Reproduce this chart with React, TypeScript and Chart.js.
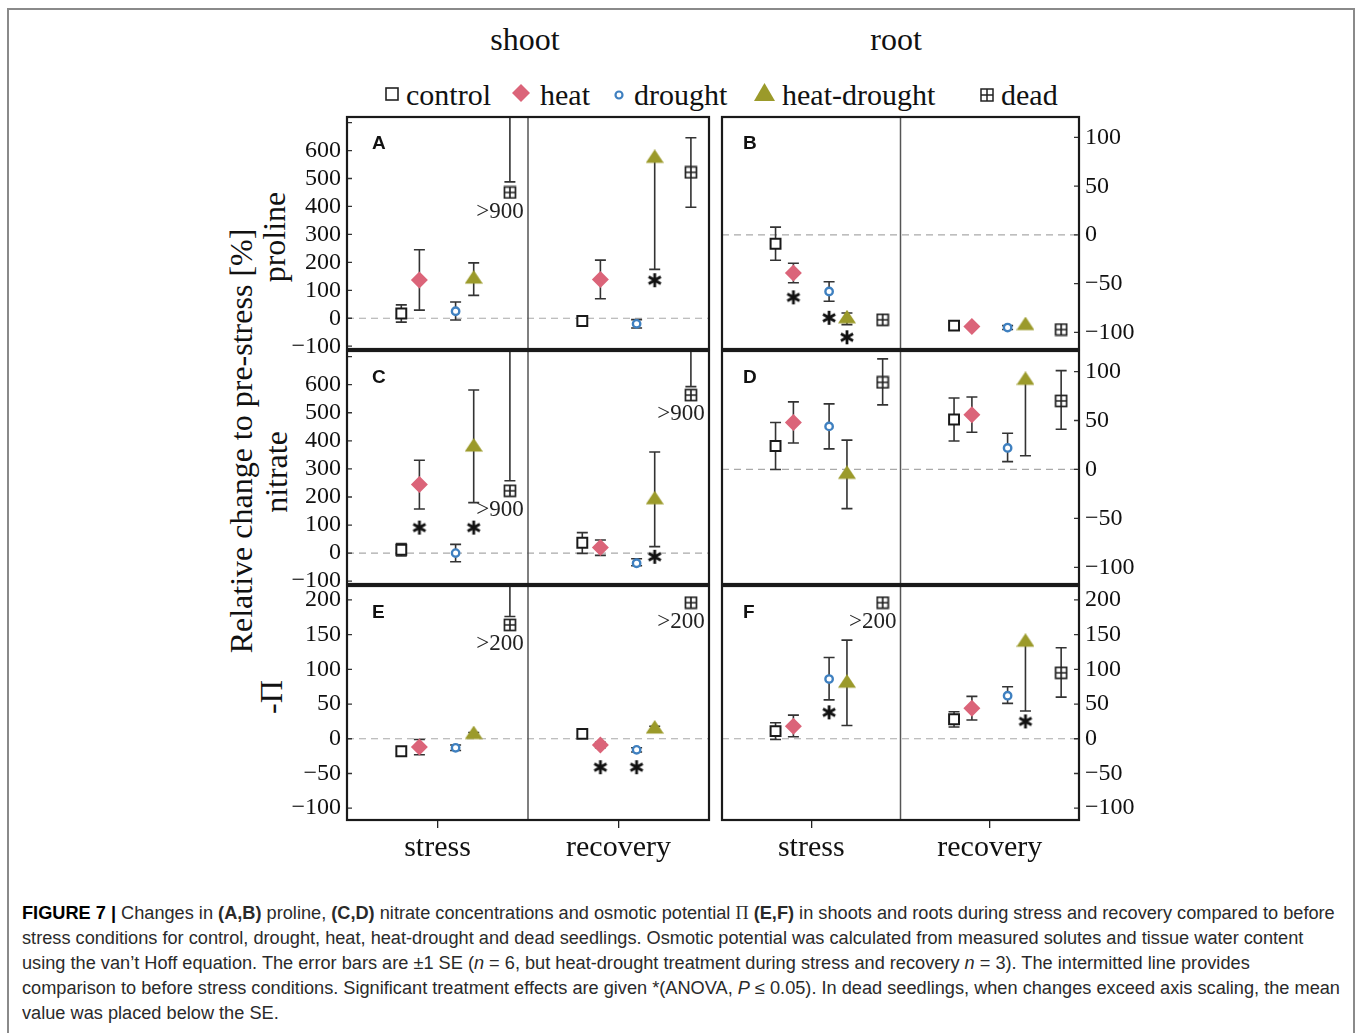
import React, { useEffect, useRef } from 'react';
import { Chart, registerables } from 'chart.js';

Chart.register(...registerables);

// ---------------- data ----------------
const categories = ['stress', 'recovery'];
const treatments = ['control', 'heat', 'drought', 'heat-drought', 'dead'];

// rows = treatments (control, heat, drought, heat-drought, dead); columns = [stress, recovery]
// A: proline, shoot
const prolineShootMean = [[17, -10], [137, 139], [25, -20], [140, 572], [450, 522]];
const prolineShootLow = [[-14, -10], [29, 70], [-6, -35], [82, 175], [488, 397]];
const prolineShootHigh = [[48, -10], [245, 208], [58, -5], [198, 572], [2000, 646]];
const prolineShootStar = [[null, null], [null, null], [null, null], [null, 136], [null, null]];
const prolineShootNote = ['>900', null];

// B: proline, root
const prolineRootMean = [[-9, -93], [-39, -94], [-58, -95], [-86, -93], [-87, -97]];
const prolineRootLow = [[-26, -93], [-49, -94], [-68, -97], [-92, -93], [-87, -97]];
const prolineRootHigh = [[8, -93], [-29, -94], [-48, -93], [-80, -93], [-87, -97]];
const prolineRootStar = [[null, null], [-64, null], [-85, null], [-105, null], [null, null]];
const prolineRootNote = [null, null];

// C: nitrate, shoot
const nitrateShootMean = [[12, 37], [244, 20], [0, -36], [378, 190], [222, 563]];
const nitrateShootLow = [[-10, -1], [157, -8], [-31, -45], [180, 23], [258, 593]];
const nitrateShootHigh = [[34, 73], [331, 47], [31, -20], [581, 360], [2000, 2000]];
const nitrateShootStar = [[null, null], [91, null], [null, null], [91, -13], [null, null]];
const nitrateShootNote = ['>900', '>900'];

// D: nitrate, root
const nitrateRootMean = [[24, 51], [48, 56], [44, 22], [-5, 91], [89, 70]];
const nitrateRootLow = [[0, 29], [27, 38], [21, 8], [-40, 14], [66, 41]];
const nitrateRootHigh = [[48, 73], [69, 74], [67, 37], [30, 91], [113, 101]];
const nitrateRootStar = [[null, null], [null, null], [null, null], [null, null], [null, null]];
const nitrateRootNote = [null, null];

// E: -Π, shoot
const osmoticShootMean = [[-18, 7], [-12, -9], [-13, -16], [6, 14], [164, 196]];
const osmoticShootLow = [[-18, 7], [-23, -13], [-17, -19], [3, 10], [176, null]];
const osmoticShootHigh = [[-18, 7], [-1, -5], [-9, -13], [9, 18], [1000, null]];
const osmoticShootStar = [[null, null], [null, -41], [null, -41], [null, null], [null, null]];
const osmoticShootNote = ['>200', '>200'];

// F: -Π, root
const osmoticRootMean = [[11, 28], [18, 44], [86, 62], [80, 139], [196, 95]];
const osmoticRootLow = [[-1, 17], [3, 27], [56, 51], [19, 40], [null, 60]];
const osmoticRootHigh = [[23, 39], [34, 61], [117, 75], [142, 139], [null, 131]];
const osmoticRootStar = [[null, null], [null, null], [38, null], [null, 25], [null, null]];
const osmoticRootNote = ['>200', null];

// axes
const concShootTicks = [-100, 0, 100, 200, 300, 400, 500, 600, 700];
const concShootTickLabels = ['−100', '0', '100', '200', '300', '400', '500', '600', ''];
const concShootLimits = [-110, 720];
const concRootTicks = [-100, -50, 0, 50, 100];
const concRootTickLabels = ['−100', '−50', '0', '50', '100'];
const concRootLimits = [-117, 121];
const osmoticTicks = [-100, -50, 0, 50, 100, 150, 200];
const osmoticTickLabels = ['−100', '−50', '0', '50', '100', '150', '200'];
const osmoticLimits = [-117, 220];

// ---------------- styles ----------------
const SERIF = '"Liberation Serif", "Times New Roman", Times, serif';
const SANS = '"Liberation Sans", Arial, Helvetica, sans-serif';
const HEAT = '#db6479';
const DROUGHT = '#3f80c0';
const HD = '#9b9a2a';
const INK = '#1a1a1a';
const CAT_X = [0.5, 1.5];
const OFFSETS = [-0.2, -0.1, 0.1, 0.2, 0.4];

Chart.defaults.font.family = SERIF;

function makeDeadIcon(): HTMLCanvasElement {
  const c = document.createElement('canvas');
  c.width = 14; c.height = 14;
  const g = c.getContext('2d')!;
  g.fillStyle = '#fff'; g.fillRect(1, 1, 12, 12);
  g.strokeStyle = '#222'; g.lineWidth = 1.7;
  g.strokeRect(1.5, 1.5, 11, 11);
  g.beginPath(); g.moveTo(7, 1.5); g.lineTo(7, 12.5); g.moveTo(1.5, 7); g.lineTo(12.5, 7); g.stroke();
  return c;
}
function makeTriangleIcon(): HTMLCanvasElement {
  const c = document.createElement('canvas');
  c.width = 18; c.height = 18;
  const g = c.getContext('2d')!;
  g.fillStyle = HD;
  g.beginPath(); g.moveTo(9, 0); g.lineTo(18, 13.5); g.lineTo(0, 13.5); g.closePath(); g.fill();
  return c;
}
function makeStarIcon(): HTMLCanvasElement {
  const c = document.createElement('canvas');
  c.width = 18; c.height = 18;
  const g = c.getContext('2d')!;
  g.strokeStyle = '#111'; g.lineWidth = 2.8;
  const r = 7;
  g.beginPath();
  for (const a of [90, 30, -30]) {
    const rad = (a * Math.PI) / 180;
    g.moveTo(9 - r * Math.cos(rad), 9 - r * Math.sin(rad));
    g.lineTo(9 + r * Math.cos(rad), 9 + r * Math.sin(rad));
  }
  g.stroke();
  return c;
}

type Box = { left: number; top: number; width: number; height: number };
type PanelCfg = {
  letter: string;
  mean: number[][]; low: (number | null)[][]; high: (number | null)[][];
  star: (number | null)[][]; note: (string | null)[];
  ticks: number[]; tickLabels: string[]; limits: number[];
  side: 'left' | 'right'; showX: boolean; box: Box;
  pad: { left: number; right: number; top: number; bottom: number }; axisW: number;
};

const COL_L = { left: 280, width: 438, padL: 0, padR: 7, axisW: 67, side: 'left' as const };
const COL_R = { left: 713, width: 450, padL: 4, padR: 0, axisW: 84, side: 'right' as const };
const ROWS = [
  { top: 105, height: 257, padT: 12, padB: 13, showX: false },
  { top: 340, height: 258, padT: 11, padB: 14, showX: false },
  { top: 573, height: 307, padT: 13, padB: 0, showX: true },
];

function cfgFor(col: typeof COL_L | typeof COL_R, row: typeof ROWS[number], rest: any): PanelCfg {
  return {
    ...rest,
    side: col.side, showX: row.showX, axisW: col.axisW,
    box: { left: col.left, top: row.top, width: col.width, height: row.height },
    pad: { left: col.padL, right: col.padR, top: row.padT, bottom: row.padB },
  };
}

const PANELS: PanelCfg[] = [
  cfgFor(COL_L, ROWS[0], { letter: 'A', mean: prolineShootMean, low: prolineShootLow, high: prolineShootHigh, star: prolineShootStar, note: prolineShootNote, ticks: concShootTicks, tickLabels: concShootTickLabels, limits: concShootLimits }),
  cfgFor(COL_R, ROWS[0], { letter: 'B', mean: prolineRootMean, low: prolineRootLow, high: prolineRootHigh, star: prolineRootStar, note: prolineRootNote, ticks: concRootTicks, tickLabels: concRootTickLabels, limits: concRootLimits }),
  cfgFor(COL_L, ROWS[1], { letter: 'C', mean: nitrateShootMean, low: nitrateShootLow, high: nitrateShootHigh, star: nitrateShootStar, note: nitrateShootNote, ticks: concShootTicks, tickLabels: concShootTickLabels, limits: concShootLimits }),
  cfgFor(COL_R, ROWS[1], { letter: 'D', mean: nitrateRootMean, low: nitrateRootLow, high: nitrateRootHigh, star: nitrateRootStar, note: nitrateRootNote, ticks: concRootTicks, tickLabels: concRootTickLabels, limits: concRootLimits }),
  cfgFor(COL_L, ROWS[2], { letter: 'E', mean: osmoticShootMean, low: osmoticShootLow, high: osmoticShootHigh, star: osmoticShootStar, note: osmoticShootNote, ticks: osmoticTicks, tickLabels: osmoticTickLabels, limits: osmoticLimits }),
  cfgFor(COL_R, ROWS[2], { letter: 'F', mean: osmoticRootMean, low: osmoticRootLow, high: osmoticRootHigh, star: osmoticRootStar, note: osmoticRootNote, ticks: osmoticTicks, tickLabels: osmoticTickLabels, limits: osmoticLimits }),
];

function makeDecor(cfg: PanelCfg) {
  return {
    id: 'decor' + cfg.letter,
    beforeDatasetsDraw(chart: any) {
      const { ctx, chartArea: a } = chart;
      const x = chart.scales.x, y = chart.scales.y;
      ctx.save();
      ctx.beginPath(); ctx.rect(a.left, a.top, a.right - a.left, a.bottom - a.top); ctx.clip();
      // reference (zero) line
      const y0 = y.getPixelForValue(0);
      ctx.setLineDash([7, 5]); ctx.strokeStyle = '#a9a9a9'; ctx.lineWidth = 1.2;
      ctx.beginPath(); ctx.moveTo(a.left, y0); ctx.lineTo(a.right, y0); ctx.stroke();
      ctx.setLineDash([]);
      // divider stress | recovery
      const xd = x.getPixelForValue(1);
      ctx.strokeStyle = '#555'; ctx.lineWidth = 1.5;
      ctx.beginPath(); ctx.moveTo(xd, a.top); ctx.lineTo(xd, a.bottom); ctx.stroke();
      // error bars
      ctx.strokeStyle = '#333'; ctx.lineWidth = 1.6;
      const cap = 5.5;
      cfg.mean.forEach((row, t) => row.forEach((m, c) => {
        const lo = cfg.low[t][c], hi = cfg.high[t][c];
        if (lo == null || hi == null) return;
        const px = x.getPixelForValue(CAT_X[c] + OFFSETS[t]);
        const pl = y.getPixelForValue(lo), ph = y.getPixelForValue(hi);
        ctx.beginPath();
        ctx.moveTo(px, pl); ctx.lineTo(px, ph);
        if (lo !== m) { ctx.moveTo(px - cap, pl); ctx.lineTo(px + cap, pl); }
        if (hi !== m) { ctx.moveTo(px - cap, ph); ctx.lineTo(px + cap, ph); }
        ctx.stroke();
      }));
      ctx.restore();
    },
    afterDraw(chart: any) {
      const { ctx, chartArea: a } = chart;
      const x = chart.scales.x, y = chart.scales.y;
      ctx.save();
      // inward y ticks
      ctx.strokeStyle = '#333'; ctx.lineWidth = 1.3;
      ctx.beginPath();
      y.ticks.forEach((tk: any) => {
        const py = y.getPixelForValue(tk.value);
        if (cfg.side === 'left') { ctx.moveTo(a.left, py); ctx.lineTo(a.left + 5, py); }
        else { ctx.moveTo(a.right, py); ctx.lineTo(a.right - 5, py); }
      });
      ctx.stroke();
      // frame
      ctx.strokeStyle = INK; ctx.lineWidth = 2.2;
      ctx.strokeRect(a.left, a.top, a.right - a.left, a.bottom - a.top);
      // panel letter
      ctx.fillStyle = '#111';
      ctx.font = `bold 19px ${SANS}`;
      ctx.textBaseline = 'alphabetic'; ctx.textAlign = 'left';
      ctx.fillText(cfg.letter, a.left + (cfg.side === 'left' ? 25 : 21), a.top + 32);
      // notes for dead seedlings beyond axis scaling
      ctx.font = `23px ${SERIF}`;
      ctx.textAlign = 'center'; ctx.textBaseline = 'middle'; ctx.fillStyle = '#222';
      cfg.note.forEach((txt, c) => {
        if (!txt) return;
        const px = x.getPixelForValue(CAT_X[c] + OFFSETS[4]);
        const py = y.getPixelForValue(cfg.mean[4][c]);
        ctx.fillText(txt, px - 10, py + 19);
      });
      ctx.restore();
    },
  };
}

function Panel({ cfg }: { cfg: PanelCfg }) {
  const ref = useRef<HTMLCanvasElement>(null);
  useEffect(() => {
    const canvas = ref.current!;
    const dead = makeDeadIcon();
    const tri = makeTriangleIcon();
    const star = makeStarIcon();
    const styles: any[] = [
      { pointStyle: 'rect', pointRadius: 7, pointBackgroundColor: '#fff', pointBorderColor: INK, pointBorderWidth: 2 },
      { pointStyle: 'rectRot', pointRadius: 8.5, pointBackgroundColor: HEAT, pointBorderColor: HEAT, pointBorderWidth: 0 },
      { pointStyle: 'circle', pointRadius: 3.7, pointBackgroundColor: '#fff', pointBorderColor: DROUGHT, pointBorderWidth: 2.4 },
      { pointStyle: tri, pointRadius: 6 },
      { pointStyle: dead, pointRadius: 6 },
    ];
    const datasets: any[] = treatments.map((name, t) => ({
      label: name,
      data: categories.map((_, c) => ({ x: CAT_X[c] + OFFSETS[t], y: cfg.mean[t][c] })),
      showLine: false,
      ...styles[t],
    }));
    const starPts: { x: number; y: number }[] = [];
    cfg.star.forEach((row, t) => row.forEach((v, c) => {
      if (v != null) starPts.push({ x: CAT_X[c] + OFFSETS[t], y: v });
    }));
    datasets.push({ label: 'significant', data: starPts, showLine: false, pointStyle: star, pointRadius: 6 });

    const chart = new Chart(canvas, {
      type: 'scatter',
      data: { datasets },
      options: {
        responsive: false,
        animation: false,
        events: [],
        layout: { padding: cfg.pad },
        plugins: { legend: { display: false }, tooltip: { enabled: false } },
        scales: {
          x: {
            type: 'linear', min: 0, max: 2, display: cfg.showX,
            afterBuildTicks: (s: any) => { s.ticks = CAT_X.map((v) => ({ value: v })); },
            afterFit: (s: any) => {
              if (cfg.showX) s.height = 60;
              s.paddingLeft = 0; s.paddingRight = 0;
            },
            grid: { display: true, drawOnChartArea: false, drawTicks: true, tickLength: 8, color: '#222', lineWidth: 1.3 },
            border: { display: false },
            ticks: {
              callback: (v: any) => categories[CAT_X.indexOf(Number(v))] ?? '',
              font: { size: 30, family: SERIF }, color: '#111', padding: 2, maxRotation: 0, autoSkip: false,
            },
          },
          y: {
            type: 'linear', position: cfg.side, min: cfg.limits[0], max: cfg.limits[1],
            afterBuildTicks: (s: any) => { s.ticks = cfg.ticks.map((v) => ({ value: v })); },
            afterFit: (s: any) => { s.width = cfg.axisW; s.paddingTop = 0; s.paddingBottom = 0; },
            grid: { display: false, drawTicks: false },
            border: { display: false },
            ticks: {
              callback: (v: any) => cfg.tickLabels[cfg.ticks.indexOf(Number(v))] ?? '',
              font: { size: 24, family: SERIF }, color: '#111', padding: 6, autoSkip: false,
            },
          },
        },
      } as any,
      plugins: [makeDecor(cfg)],
    });
    return () => chart.destroy();
  }, [cfg]);
  const b = cfg.box;
  return (
    <canvas ref={ref} width={b.width} height={b.height}
      style={{ position: 'absolute', left: b.left, top: b.top, width: b.width, height: b.height }} />
  );
}

function Txt({ x, y, size, children, center = false }: any) {
  return (
    <div style={{
      position: 'absolute', left: x, top: y - 0.8375 * size, fontSize: size, lineHeight: `${size}px`,
      fontFamily: SERIF, whiteSpace: 'nowrap', color: '#111', transform: center ? 'translateX(-50%)' : undefined,
    }}>{children}</div>
  );
}
function VTxt({ cx, cy, size, children }: any) {
  return (
    <div style={{
      position: 'absolute', left: cx, top: cy, fontSize: size, lineHeight: `${size}px`, fontFamily: SERIF,
      whiteSpace: 'nowrap', color: '#111', transform: 'translate(-50%, -50%) rotate(-90deg)',
    }}>{children}</div>
  );
}

function Legend() {
  const box = (l: number, t: number, w: number, h: number, inner: any) => (
    <svg width={w} height={h} style={{ position: 'absolute', left: l, top: t }}>{inner}</svg>
  );
  return (
    <>
      {box(385, 87, 14, 14, <rect x={1} y={1} width={12} height={12} fill="#fff" stroke="#222" strokeWidth={1.6} />)}
      <Txt x={406} y={105} size={30}>control</Txt>
      {box(512, 84, 18, 18, <polygon points="9,0 18,9 9,18 0,9" fill={HEAT} />)}
      <Txt x={540} y={105} size={30}>heat</Txt>
      {box(613, 89, 12, 12, <circle cx={6} cy={6} r={3.5} fill="#fff" stroke={DROUGHT} strokeWidth={2.2} />)}
      <Txt x={634} y={105} size={30}>drought</Txt>
      {box(754, 83, 21, 18, <polygon points="10.5,0 21,18 0,18" fill={HD} />)}
      <Txt x={782} y={105} size={30}>heat-drought</Txt>
      {box(980, 88, 14, 14, <g fill="none" stroke="#222" strokeWidth={1.5}><rect x={1} y={1} width={12} height={12} /><line x1={7} y1={1} x2={7} y2={13} /><line x1={1} y1={7} x2={13} y2={7} /></g>)}
      <Txt x={1001} y={105} size={30}>dead</Txt>
    </>
  );
}

export default function App() {
  return (
    <div style={{ position: 'absolute', left: 0, top: 0, width: 1358, height: 1033, overflow: 'hidden', background: '#fff' }}>
      <div style={{ position: 'absolute', left: 7, top: 8, width: 1348, height: 1100, border: '2px solid #8a8a8a', boxSizing: 'border-box' }} />
      <Txt x={525} y={50} size={32} center>shoot</Txt>
      <Txt x={896} y={50} size={32} center>root</Txt>
      <Legend />
      <VTxt cx={241} cy={441} size={32}>Relative change to pre-stress [%]</VTxt>
      <VTxt cx={274} cy={237} size={32}>proline</VTxt>
      <VTxt cx={276} cy={472} size={32}>nitrate</VTxt>
      <VTxt cx={271} cy={697} size={32}>-Π</VTxt>
      {PANELS.map((p) => <Panel key={p.letter} cfg={p} />)}
      <div style={{
        position: 'absolute', left: 22, top: 901, fontFamily: SANS, fontSize: 18, lineHeight: '25px',
        color: '#2a2a2a', transform: 'scaleX(1.01)', transformOrigin: 'left top', whiteSpace: 'nowrap',
      }}>
        <div><b style={{ color: '#000' }}>FIGURE 7 |</b> Changes in <b>(A,B)</b> proline, <b>(C,D)</b> nitrate concentrations and osmotic potential <span style={{ fontFamily: SERIF }}>Π</span> <b>(E,F)</b> in shoots and roots during stress and recovery compared to before</div>
        <div>stress conditions for control, drought, heat, heat-drought and dead seedlings. Osmotic potential was calculated from measured solutes and tissue water content</div>
        <div>using the van’t Hoff equation. The error bars are ±1 SE (<i>n</i> = 6, but heat-drought treatment during stress and recovery <i>n</i> = 3). The intermitted line provides</div>
        <div>comparison to before stress conditions. Significant treatment effects are given *(ANOVA, <i>P</i> ≤ 0.05). In dead seedlings, when changes exceed axis scaling, the mean</div>
        <div>value was placed below the SE.</div>
      </div>
    </div>
  );
}
